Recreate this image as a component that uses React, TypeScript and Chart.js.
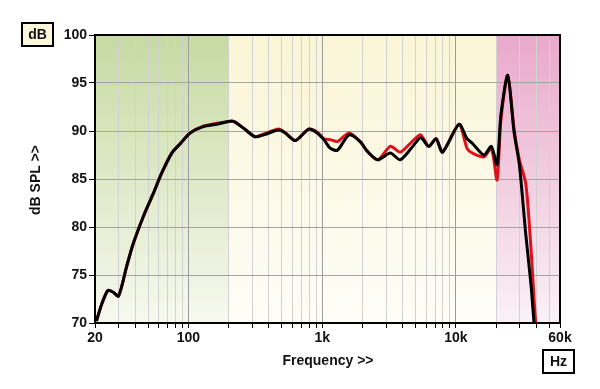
import { useEffect, useRef } from 'react';
import { Chart, registerables } from 'chart.js';

Chart.register(...registerables);

// Frequency points (Hz)
const freqHz = [20.5, 22.5, 25, 27.4, 30, 34.5, 38.7, 46, 54.6, 63, 75, 87, 103, 129, 163, 200, 218, 258, 315, 366, 472, 530, 630, 792, 916, 1030, 1150, 1300, 1590, 1924, 2170, 2600, 3230, 3830, 4700, 5450, 6260, 7100, 7940, 10540, 12100, 13300, 16200, 18400, 20300, 21700, 24400, 27200, 29800, 33300, 36400, 38300, 39400];

// Black trace (dB SPL)
const blackDb = [70.2, 72.0, 73.4, 73.2, 72.8, 75.9, 78.3, 81.1, 83.5, 85.6, 87.7, 88.7, 89.8, 90.45, 90.7, 91.0, 91.0, 90.3, 89.4, 89.6, 90.1, 89.8, 89.0, 90.2, 89.8, 89.1, 88.2, 88.0, 89.6, 88.9, 87.9, 87.0, 87.7, 87.0, 88.3, 89.3, 88.4, 89.2, 87.8, 90.7, 89.2, 88.7, 87.5, 88.4, 86.5, 91.7, 95.8, 89.9, 86.5, 79.2, 74.0, 70.1, null];

// Red trace (dB SPL)
const redDb = [70.2, 72.0, 73.4, 73.2, 72.8, 75.9, 78.3, 81.1, 83.5, 85.6, 87.7, 88.7, 89.8, 90.5, 90.8, 91.0, 91.0, 90.3, 89.4, 89.7, 90.2, 89.8, 89.0, 90.2, 89.9, 89.2, 89.1, 88.9, 89.8, 88.9, 87.9, 87.0, 88.4, 87.8, 88.9, 89.6, 88.4, 89.2, 87.8, 90.7, 88.2, 87.7, 87.3, 88.2, 84.9, 91.2, 95.8, 90.2, 87.0, 84.5, 77.8, 72.7, 70.1];

// Grid / tick positions
const gridFreqs = [20, 30, 40, 50, 60, 70, 80, 90, 100, 200, 300, 400, 500, 600, 700, 800, 900, 1000, 2000, 3000, 4000, 5000, 6000, 7000, 8000, 9000, 10000, 20000, 30000, 40000, 50000, 60000];
const majorFreqs = [100, 1000, 10000];
const xTickLabels: Record<number, string> = { 20: '20', 100: '100', 1000: '1k', 10000: '10k', 60000: '60k' };
const yTickValues = [70, 75, 80, 85, 90, 95, 100];

// Background bands: [from, to, topColor, bottomColor]
const bandFrom = [20, 200, 20000];
const bandTo = [200, 20000, 60000];
const bandTop = ['#c6daa2', '#faf5d6', '#e9a9cb'];
const bandBottom = ['#f7f9ef', '#fefdf7', '#faf2f6'];

const FONT = '"Liberation Sans", Arial, sans-serif';

const decorPlugin = {
  id: 'decor',
  beforeDraw(chart: any) {
    const { ctx, chartArea, scales } = chart;
    ctx.save();
    ctx.fillStyle = '#ffffff';
    ctx.fillRect(0, 0, chart.width, chart.height);
    for (let i = 0; i < bandFrom.length; i++) {
      const x1 = scales.x.getPixelForValue(bandFrom[i]);
      const x2 = scales.x.getPixelForValue(bandTo[i]);
      const g = ctx.createLinearGradient(0, chartArea.top, 0, chartArea.bottom);
      g.addColorStop(0, bandTop[i]);
      g.addColorStop(1, bandBottom[i]);
      ctx.fillStyle = g;
      ctx.fillRect(x1, chartArea.top, x2 - x1, chartArea.bottom - chartArea.top);
    }
    ctx.restore();
  },
  afterDraw(chart: any) {
    const { ctx, chartArea } = chart;
    ctx.save();
    // frame
    ctx.strokeStyle = '#000';
    ctx.lineWidth = 2;
    ctx.strokeRect(chartArea.left, chartArea.top, chartArea.right - chartArea.left, chartArea.bottom - chartArea.top);

    ctx.fillStyle = '#111';
    ctx.font = `bold 14px ${FONT}`;
    ctx.textAlign = 'center';
    ctx.textBaseline = 'middle';

    // dB box
    ctx.fillStyle = '#fcf8dc';
    ctx.fillRect(22, 23, 31, 23);
    ctx.strokeRect(22, 23, 31, 23);
    ctx.fillStyle = '#111';
    ctx.fillText('dB', 37.5, 35);

    // Hz box
    ctx.fillStyle = '#ffffff';
    ctx.fillRect(543, 350, 31, 23);
    ctx.strokeRect(543, 350, 31, 23);
    ctx.fillStyle = '#111';
    ctx.fillText('Hz', 558.5, 362);

    // axis titles
    ctx.fillText('Frequency >>', 328, 361);
    ctx.translate(36, 180);
    ctx.rotate(-Math.PI / 2);
    ctx.fillText('dB SPL >>', 0, 0);
    ctx.restore();
  },
};

export default function App() {
  const ref = useRef<HTMLCanvasElement>(null);

  useEffect(() => {
    if (!ref.current) return;
    const chart = new Chart(ref.current, {
      type: 'line',
      data: {
        datasets: [
          {
            label: 'black',
            data: freqHz.map((f, i) => ({ x: f, y: blackDb[i] })),
            borderColor: '#000000',
            borderWidth: 3,
            pointRadius: 0,
            tension: 0.25,
            spanGaps: false,
          },
          {
            label: 'red',
            data: freqHz.map((f, i) => ({ x: f, y: redDb[i] })),
            borderColor: '#e0101a',
            borderWidth: 3,
            pointRadius: 0,
            tension: 0.25,
          },
        ],
      },
      options: {
        animation: false,
        responsive: false,
        devicePixelRatio: 1,
        layout: { padding: { left: 0, right: 40, top: 35, bottom: 0 } },
        plugins: { legend: { display: false }, tooltip: { enabled: false } },
        scales: {
          x: {
            type: 'logarithmic',
            min: 20,
            max: 60000,
            afterBuildTicks: (scale: any) => {
              scale.ticks = gridFreqs.map((v) => ({ value: v }));
            },
            afterFit: (scale: any) => {
              scale.height = 66;
            },
            ticks: {
              autoSkip: false,
              maxRotation: 0,
              minRotation: 0,
              padding: 2,
              color: '#111',
              font: { family: FONT, size: 14, weight: 'bold' },
              callback: (v: any) => xTickLabels[Number(v)] ?? '',
            },
            grid: {
              color: (c: any) => (majorFreqs.includes(c.tick?.value) ? '#9c9c9c' : '#d2d2d2'),
              tickColor: '#000',
              tickLength: 5,
              lineWidth: 1,
            },
            border: { display: true, color: '#000', width: 2 },
          },
          y: {
            type: 'linear',
            min: 70,
            max: 100,
            afterBuildTicks: (scale: any) => {
              scale.ticks = yTickValues.map((v) => ({ value: v }));
            },
            afterFit: (scale: any) => {
              scale.width = 95;
            },
            ticks: {
              padding: 2,
              color: '#111',
              font: { family: FONT, size: 14, weight: 'bold' },
            },
            grid: {
              color: '#a4a4a4',
              tickColor: '#000',
              tickLength: 6,
              lineWidth: 1,
            },
            border: { display: true, color: '#000', width: 2 },
          },
        },
      } as any,
      plugins: [decorPlugin],
    });
    return () => chart.destroy();
  }, []);

  return (
    <div style={{ position: 'absolute', left: 0, top: 0, width: 600, height: 389 }}>
      <canvas ref={ref} width={600} height={389} />
    </div>
  );
}
